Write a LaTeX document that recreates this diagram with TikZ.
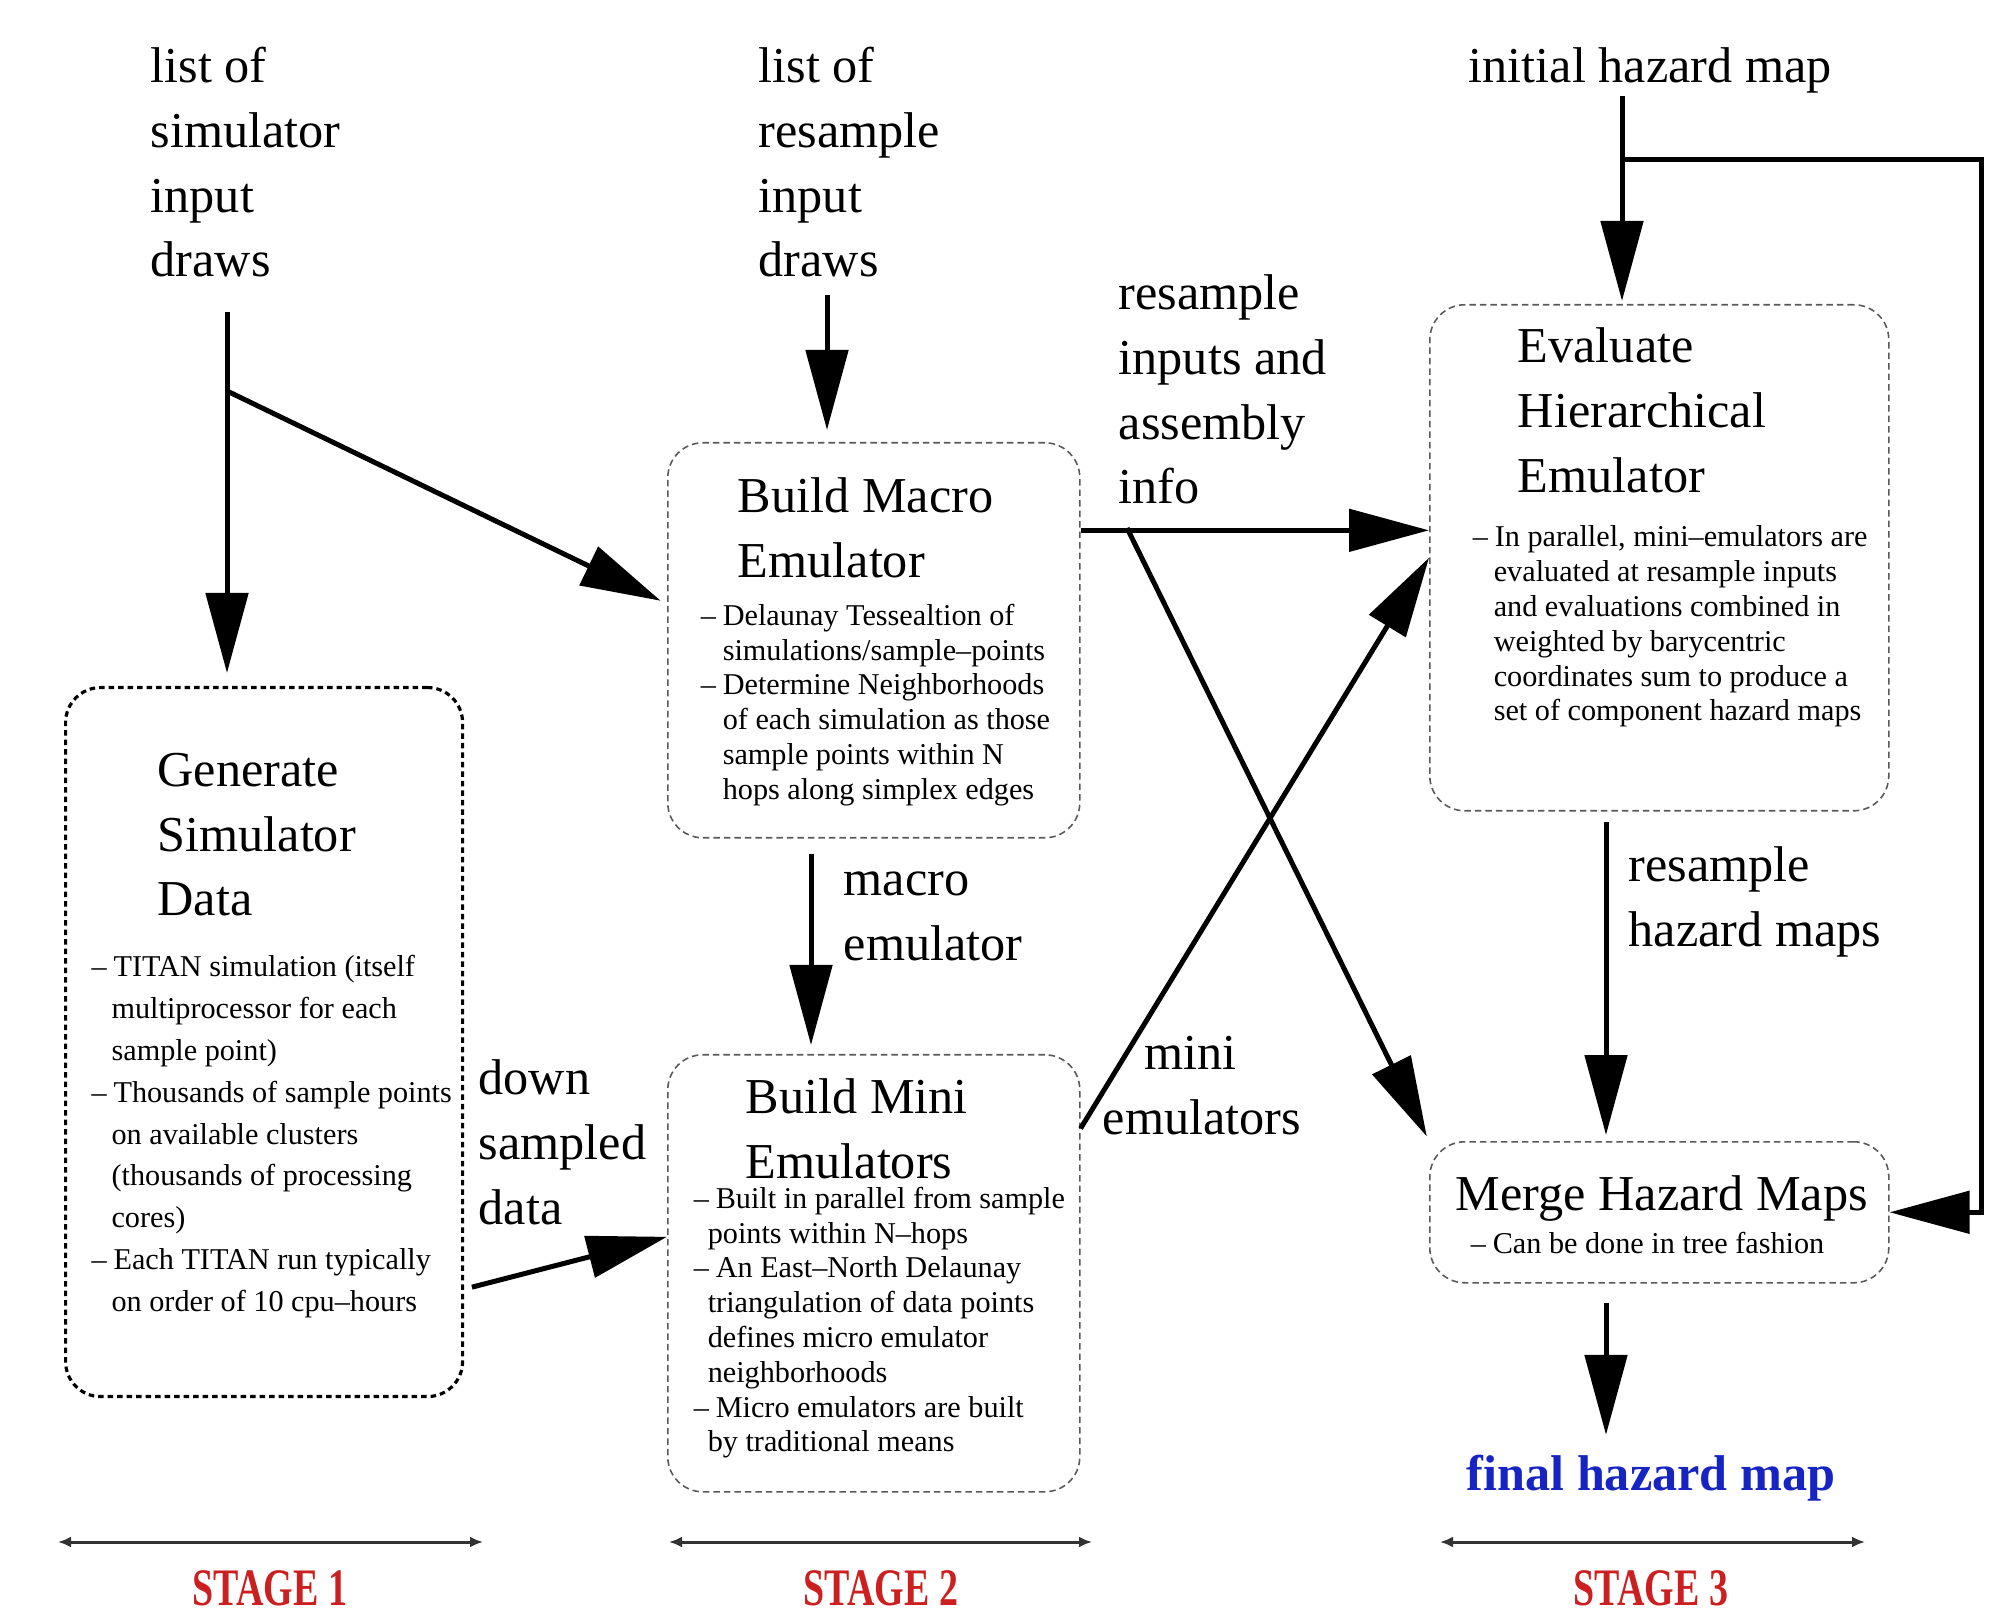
\documentclass[tikz,border=0pt]{standalone}
\usepackage{graphicx}
\usepackage{fontspec}
\setmainfont{Liberation Serif}
\usetikzlibrary{arrows.meta}
\definecolor{stagered}{RGB}{204,32,32}
\definecolor{finalblue}{RGB}{22,36,196}
\newcommand{\lbl}{\fontsize{14.3}{18.4}\selectfont}
\newcommand{\notefont}[1][9.9pt]{\fontsize{8.6}{#1}\selectfont}
\newlength{\hangw}
% box text: width, height, content
\newcommand{\boxtxt}[3]{\begin{minipage}[t][#2][t]{#1}\parindent=0pt\rightskip=-20mm plus 1fil #3\end{minipage}}
% title: top gap, left offset, lines
\newcommand{\ttl}[3]{\vspace*{#1}{\lbl\leftskip=#2\noindent\rule{0pt}{4mm}#3\par}}
\newcommand{\bitem}[1]{\par\noindent\hangindent=\hangw\hangafter=1\makebox[2.2mm][l]{--}#1}
\newcommand{\lbltxt}[1]{\begin{minipage}[t]{45mm}\lbl #1\end{minipage}}
\tikzstyle{phase} = [draw=black!65, line width=0.45pt, dash pattern=on 0.65mm off 0.4mm,
    rounded corners=3.5mm, inner sep=0pt]
\tikzstyle{gendot} = [phase, draw=black, line width=0.9pt, dash pattern=on 0.55mm off 0.4mm]
\tikzstyle{txt} = [anchor=base west, inner sep=0pt]
\tikzstyle{flow} = [->, line width=0.5mm]
\tikzstyle{stagebar} = [{Latex[length=1.3mm,width=1.1mm]}-{Latex[length=1.3mm,width=1.1mm]},
    line width=0.3mm, draw=black!80]
\tikzstyle{stagelbl} = [anchor=base, inner sep=0pt, text=stagered,
    font=\fontsize{15}{18}\selectfont\bfseries]

\begin{document}
\begin{tikzpicture}[x=0.1mm, y=-0.1mm, >={Triangle[length=8mm,width=4.2mm]}]
      \useasboundingbox (0,0) rectangle (2010,1616);
      % We start by placing the blocks
      \node[gendot, anchor=north west] at (64,686) (gen) {\boxtxt{39.7mm}{70.9mm}{%
        \ttl{5.9mm}{9.2mm}{Generate\\Simulator\\Data}
        \vspace{1.9mm}
        {\notefont[11.9pt]\leftskip=2.6mm\hangw=2.0mm
         \bitem{TITAN simulation (itself\\multiprocessor for each\\sample point)}
         \bitem{Thousands of sample points\\on available clusters\\(thousands of processing\\cores)}
         \bitem{Each TITAN run typically\\on order of 10 cpu--hours}\par}}};
      \node[phase, anchor=north west] at (667,442) (macro) {\boxtxt{41.2mm}{39.5mm}{%
        \ttl{3mm}{7mm}{Build Macro\\Emulator}
        \vspace{1.3mm}
        {\notefont\leftskip=3.3mm\hangw=2.2mm
         \bitem{Delaunay Tessealtion of\\simulations/sample--points}
         \bitem{Determine Neighborhoods\\of each simulation as those\\sample points within N\\hops along simplex edges}\par}}};
      \node[phase, anchor=north west] at (667,1054) (mini) {\boxtxt{41.2mm}{43.7mm}{%
        \ttl{1.9mm}{7.8mm}{Build Mini\\Emulators}
        \vspace{-0.5mm}
        {\notefont\leftskip=2.6mm\hangw=1.4mm
         \bitem{Built in parallel from sample\\points within N--hops}
         \bitem{An East--North Delaunay\\triangulation of data points\\defines micro emulator\\neighborhoods}
         \bitem{Micro emulators are built\\by traditional means}\par}}};
      \node[phase, anchor=north west] at (1429,304) (eval) {\boxtxt{45.9mm}{50.6mm}{%
        \ttl{1.8mm}{8.8mm}{Evaluate\\Hierarchical\\Emulator}
        \vspace{2mm}
        {\notefont\leftskip=4.3mm\hangw=2.1mm
         \bitem{In parallel, mini--emulators are\\evaluated at resample inputs\\and evaluations combined in\\weighted by barycentric\\coordinates sum to produce a\\set of component hazard maps}\par}}};
      \node[phase, anchor=north west] at (1429,1141) (merge) {\boxtxt{45.9mm}{14.1mm}{%
        \ttl{2.9mm}{2.6mm}{Merge Hazard Maps}
        \vspace{0.8mm}
        {\notefont\leftskip=4.1mm\hangw=2.2mm
         \bitem{Can be done in tree fashion}\par}}};

      % texts next to the arrows
      \node[txt] at (150,83) (simdraws) {\lbltxt{list of\\simulator\\input\\draws}};
      \node[txt] at (758,83) (resdraws) {\lbltxt{list of\\resample\\input\\draws}};
      \node[txt] at (1468,83) (inithaz) {\lbltxt{initial hazard map}};
      \node[txt] at (1118,310) (resinfo) {\lbltxt{resample\\inputs and\\assembly\\info}};
      \node[txt] at (843,896) (macroemu) {\lbltxt{macro\\emulator}};
      \node[txt] at (478,1095) (downdata) {\lbltxt{down\\sampled\\data}};
      \node[txt] at (1102,1070) (miniemu) {\lbltxt{\hspace*{4.2mm}mini\\emulators}};
      \node[txt] at (1628,882) (reshaz) {\lbltxt{resample\\hazard maps}};
      \node[txt, text=finalblue, font=\lbl\bfseries] at (1466,1490) (final) {final hazard map};

      % stages
      \node[stagelbl] at (270,1605) (stage1) {\scalebox{0.72}[1]{STAGE 1}};
      \node[stagelbl] at (881,1605) (stage2) {\scalebox{0.72}[1]{STAGE 2}};
      \node[stagelbl] at (1651,1605) (stage3) {\scalebox{0.72}[1]{STAGE 3}};

      % free ends and bends
      \coordinate (s1) at (227,312);
      \coordinate (b1) at (227,391);
      \coordinate (s2) at (827,295);
      \coordinate (c2) at (811,0);
      \coordinate (b2) at (1127,528);
      \coordinate (s3) at (1622,96);
      \coordinate (b3) at (1622,160);
      \coordinate (turn) at (1981,160);
      \coordinate (c3) at (1606,0);

      % stage 1 and 2
      \draw[flow, shorten >=1.3mm] (s1) -- (s1 |- gen.north);
      \draw[flow, shorten >=0.7mm] (b1) -- (macro.170.6);
      \draw[flow, shorten >=1.2mm] (s2) -- (s2 |- macro.north);
      \draw[flow, shorten <=1.5mm, shorten >=0.9mm] (macro.south -| c2) -- (mini.north -| c2);
      \draw[flow, shorten <=0.8mm] (gen.-51.27) -- (mini.170.5);

      % crossing into stage 3
      \draw[flow] (macro.28.42) -- (macro.28.42 -| eval.west);
      \draw[flow, shorten >=0.5mm] (b2) -- (merge.north west);
      \draw[flow] (mini.35.9) -- (eval.west);

      % stage 3
      \draw[flow, shorten >=0.3mm] (s3) -- (s3 |- eval.north);
      \draw[flow] (b3) -- (turn) |- (merge.east);
      \draw[flow, shorten <=1mm, shorten >=0.6mm] (eval.south -| c3) -- (merge.north -| c3);
      \draw[flow, shorten <=1.9mm, shorten >=1.9mm] (merge.south -| c3) -- (final.north -| c3);

      % stage bars
      \coordinate (st1l) at (58,1542);
      \coordinate (st1r) at (483,1542);
      \coordinate (st2l) at (669,1542);
      \coordinate (st2r) at (1092,1542);
      \coordinate (st3l) at (1440,1542);
      \coordinate (st3r) at (1865,1542);
      \draw[stagebar] (st1l) -- (st1r);
      \draw[stagebar] (st2l) -- (st2r);
      \draw[stagebar] (st3l) -- (st3r);
\end{tikzpicture}
\end{document}
